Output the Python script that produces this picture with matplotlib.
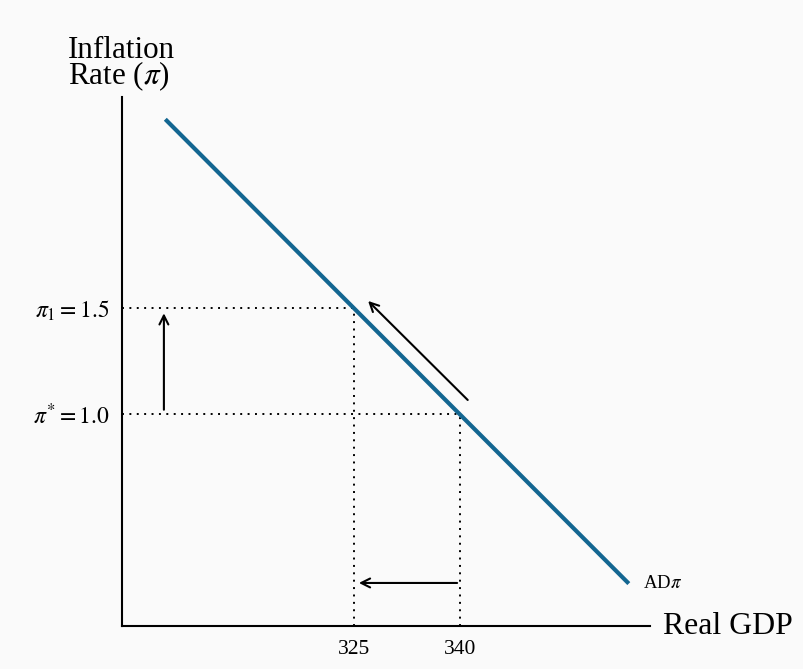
import matplotlib
matplotlib.use("Agg")
import matplotlib.pyplot as plt

# ---- data ----
ad_x = [298.3, 363.9]
ad_y = [2.39, 0.20]
ad_label = "AD$\\pi$"

x_ticks = [325, 340]
x_tick_labels = ["325", "340"]
y_ticks = [1.5, 1.0]
y_tick_labels = ["$\\pi_1 = 1.5$", "$\\pi^{*} = 1.0$"]

# arrows: (tail_x, tail_y, head_x, head_y)
arrow_up = (298.1, 1.02, 298.1, 1.475)
arrow_diag = (341.1, 1.066, 327.0, 1.533)
arrow_left = (339.6, 0.203, 325.7, 0.203)

xlim = (292.17, 366.9)
ylim = (0.0, 2.495)

plt.rcParams['font.family'] = ['Liberation Serif', 'DejaVu Serif']
plt.rcParams['mathtext.fontset'] = 'stix'

bg = '#fafafa'
fig = plt.figure(figsize=(8.04, 6.69), dpi=100, facecolor=bg)
ax = fig.add_axes([122/804, 1-626/669, (650-122)/804, (626-97)/669])
ax.set_facecolor(bg)
ax.set_xlim(*xlim)
ax.set_ylim(*ylim)

for s in ['top', 'right']:
    ax.spines[s].set_visible(False)
for s in ['left', 'bottom']:
    ax.spines[s].set_linewidth(1.5)
    ax.spines[s].set_color('black')

ax.set_xticks(x_ticks)
ax.set_xticklabels(x_tick_labels, fontsize=15.5)
ax.set_yticks(y_ticks)
ax.set_yticklabels(y_tick_labels, fontsize=17)
ax.tick_params(axis='both', length=0)
ax.tick_params(axis='x', pad=10)
ax.tick_params(axis='y', pad=9)

dot = dict(color='black', lw=1.4, linestyle=(0, (1, 2.8)))
# guide lines
ax.plot([xlim[0], x_ticks[0]], [y_ticks[0], y_ticks[0]], **dot)
ax.plot([xlim[0], x_ticks[1]], [y_ticks[1], y_ticks[1]], **dot)
ax.plot([x_ticks[0], x_ticks[0]], [0, y_ticks[0]], **dot)
ax.plot([x_ticks[1], x_ticks[1]], [0, y_ticks[1]], **dot)

# AD curve
ax.plot(ad_x, ad_y, color='#136691', lw=3, solid_capstyle='butt', zorder=3)
ax.text(365.9, ad_y[1], ad_label, fontsize=13.5, ha='left', va='center')

for (tx, ty, hx, hy) in [arrow_up, arrow_diag, arrow_left]:
    ax.annotate('', xy=(hx, hy), xytext=(tx, ty),
                arrowprops=dict(arrowstyle='->', lw=1.5, color='black',
                                shrinkA=0, shrinkB=0, mutation_scale=16))

# axis titles
fig.text(663/804, 1-626/669, 'Real GDP', fontsize=22.9, ha='left', va='center')
fig.text(68/804, 1-36/669, 'Inflation\nRate ($\\pi$)', fontsize=22.4,
         ha='left', va='top', linespacing=0.76)

fig.savefig('out.png', dpi=100, facecolor=bg)
